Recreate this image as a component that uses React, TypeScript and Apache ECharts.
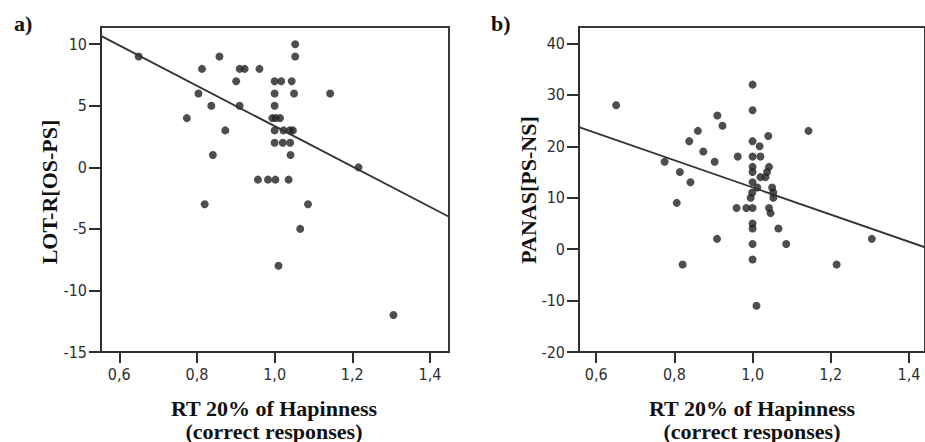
import React, { useEffect, useRef } from "react";
import * as echarts from "echarts";

// Tick values
const xTicks = [0.6, 0.8, 1.0, 1.2, 1.4];
const yTicksA = [-15, -10, -5, 0, 5, 10];
const yTicksB = [-20, -10, 0, 10, 20, 30, 40];

// Panel a) RT 20% of Happiness vs LOT-R[OS-PS]
const rtA = [
  1.053, 1.053, 0.858, 0.65, 0.813, 0.91, 0.923, 0.961, 0.901, 1.0, 1.017, 1.044,
  0.804, 1.0, 1.05, 1.143, 0.837, 0.91, 1.0, 0.774, 0.994, 1.003, 1.014, 0.873,
  1.0, 1.023, 1.039, 1.047, 1.0, 1.021, 1.04, 0.841, 1.041, 0.957, 0.983, 1.002,
  1.036, 0.82, 1.086, 1.216, 1.066, 1.01, 1.306,
];
const lotR = [
  10, 9, 9, 9, 8, 8, 8, 8, 7, 7, 7, 7,
  6, 6, 6, 6, 5, 5, 5, 4, 4, 4, 4, 3,
  3, 3, 3, 3, 2, 2, 2, 1, 1, -1, -1, -1,
  -1, -3, -3, 0, -5, -8, -12,
];

// Panel b) RT 20% of Happiness vs PANAS[PS-NS]
const rtB = [
  0.651, 1.0, 1.0, 0.91, 0.923, 0.86, 0.838, 1.04, 1.0, 1.018, 0.874, 0.962,
  1.0, 1.02, 0.775, 0.903, 1.0, 1.0, 1.042, 1.037, 1.033, 1.02, 0.814, 0.841,
  1.0, 1.012, 1.05, 0.999, 0.995, 1.053, 1.053, 0.806, 0.959, 0.984, 1.0, 1.042,
  1.046, 1.0, 1.0, 1.066, 0.909, 1.0, 1.086, 1.0, 0.821, 1.215, 1.01, 1.305, 1.143,
];
const panas = [
  28, 32, 27, 26, 24, 23, 21, 22, 21, 20, 19, 18,
  18, 18, 17, 17, 16, 15, 16, 15, 14, 14, 15, 13,
  13, 12, 12, 11, 10, 11, 10, 9, 8, 8, 8, 8,
  7, 5, 4, 4, 2, 1, 1, -2, -3, -3, -11, 2, 23,
];

// Fit lines: [intercept, slope]
const fitA = [19.75, -16.4];
const fitB = [38.4, -26.4];

const X_A: [number, number] = [0.553, 1.449];
const X_B: [number, number] = [0.556, 1.441];

const tickFont = "'DejaVu Sans Condensed', 'Liberation Sans Narrow', 'DejaVu Sans', sans-serif";
const titleFont = "'Liberation Serif', 'DejaVu Serif', serif";
const axisColor = "#2e2e2e";
const textColor = "#2e2e2e";

function xAxisDef(gridIndex: number, ext: [number, number]) {
  return {
    type: "value",
    gridIndex,
    min: ext[0],
    max: ext[1],
    splitLine: { show: false },
    axisLine: { show: true, onZero: false, lineStyle: { color: axisColor, width: 2 } },
    axisTick: {
      show: true,
      inside: false,
      length: 11,
      customValues: xTicks,
      lineStyle: { color: axisColor, width: 2 },
    },
    axisLabel: {
      customValues: xTicks,
      margin: 14,
      color: textColor,
      fontFamily: tickFont,
      fontSize: 16,
      formatter: (v: number) => v.toFixed(1).replace(".", ","),
    },
  };
}

function yAxisDef(gridIndex: number, min: number, max: number, ticks: number[]) {
  return {
    type: "value",
    gridIndex,
    min,
    max,
    splitLine: { show: false },
    axisLine: { show: true, onZero: false, lineStyle: { color: axisColor, width: 2 } },
    axisTick: {
      show: true,
      inside: false,
      length: 12,
      customValues: ticks,
      lineStyle: { color: axisColor, width: 2 },
    },
    axisLabel: {
      customValues: ticks,
      margin: 14,
      color: textColor,
      fontFamily: tickFont,
      fontSize: 16,
      formatter: (v: number) => String(Math.round(v)),
    },
  };
}

function fitLine(fit: number[], ext: [number, number]) {
  return ext.map((x) => [x, fit[0] + fit[1] * x]);
}

export default function App() {
  const ref = useRef<HTMLDivElement>(null);

  useEffect(() => {
    if (!ref.current) return;
    const chart = echarts.init(ref.current, undefined, { renderer: "svg" });
    const ptsA = rtA.map((x, i) => [x, lotR[i]]);
    const ptsB = rtB.map((x, i) => [x, panas[i]]);

    const titleStyle = {
      fill: "#111",
      font: `bold 22px ${titleFont}`,
      textAlign: "center",
      textVerticalAlign: "middle",
    };

    chart.setOption({
      animation: false,
      backgroundColor: "#fff",
      grid: [
        { left: 101, top: 27, width: 348, height: 325, show: true, borderColor: "#3a3a3a", borderWidth: 2, backgroundColor: "transparent" },
        { left: 579, top: 27, width: 346, height: 325, show: true, borderColor: "#3a3a3a", borderWidth: 2, backgroundColor: "transparent" },
      ],
      xAxis: [xAxisDef(0, X_A), xAxisDef(1, X_B)],
      yAxis: [yAxisDef(0, -15, 11.4, yTicksA), yAxisDef(1, -20, 43.2, yTicksB)],
      series: [
        {
          type: "scatter",
          xAxisIndex: 0,
          yAxisIndex: 0,
          data: ptsA,
          symbol: "circle",
          symbolSize: 8,
          itemStyle: { color: "#222" },
        },
        {
          type: "line",
          xAxisIndex: 0,
          yAxisIndex: 0,
          data: fitLine(fitA, X_A),
          symbol: "none",
          lineStyle: { color: "#333", width: 1.8 },
        },
        {
          type: "scatter",
          xAxisIndex: 1,
          yAxisIndex: 1,
          data: ptsB,
          symbol: "circle",
          symbolSize: 8,
          itemStyle: { color: "#222" },
        },
        {
          type: "line",
          xAxisIndex: 1,
          yAxisIndex: 1,
          data: fitLine(fitB, X_B),
          symbol: "none",
          lineStyle: { color: "#333", width: 1.8 },
        },
      ],
      graphic: [
        { type: "text", left: 14, top: 12, style: { text: "a)", fill: "#111", font: `bold 22px ${titleFont}` } },
        { type: "text", left: 491, top: 12, style: { text: "b)", fill: "#111", font: `bold 22px ${titleFont}` } },
        { type: "text", x: 49.5, y: 192, rotation: Math.PI / 2, style: { ...titleStyle, text: "LOT-R[OS-PS]" } },
        { type: "text", x: 528, y: 190, rotation: Math.PI / 2, style: { ...titleStyle, text: "PANAS[PS-NS]" } },
        { type: "text", x: 274, y: 408, style: { ...titleStyle, text: "RT 20% of Hapinness" } },
        { type: "text", x: 274, y: 431, style: { ...titleStyle, text: "(correct responses)" } },
        { type: "text", x: 752, y: 408, style: { ...titleStyle, text: "RT 20% of Hapinness" } },
        { type: "text", x: 752, y: 431, style: { ...titleStyle, text: "(correct responses)" } },
      ],
    });
    return () => chart.dispose();
  }, []);

  return (
    <div
      ref={ref}
      style={{ position: "fixed", left: 0, top: 0, width: 925, height: 442, background: "#fff" }}
    />
  );
}
